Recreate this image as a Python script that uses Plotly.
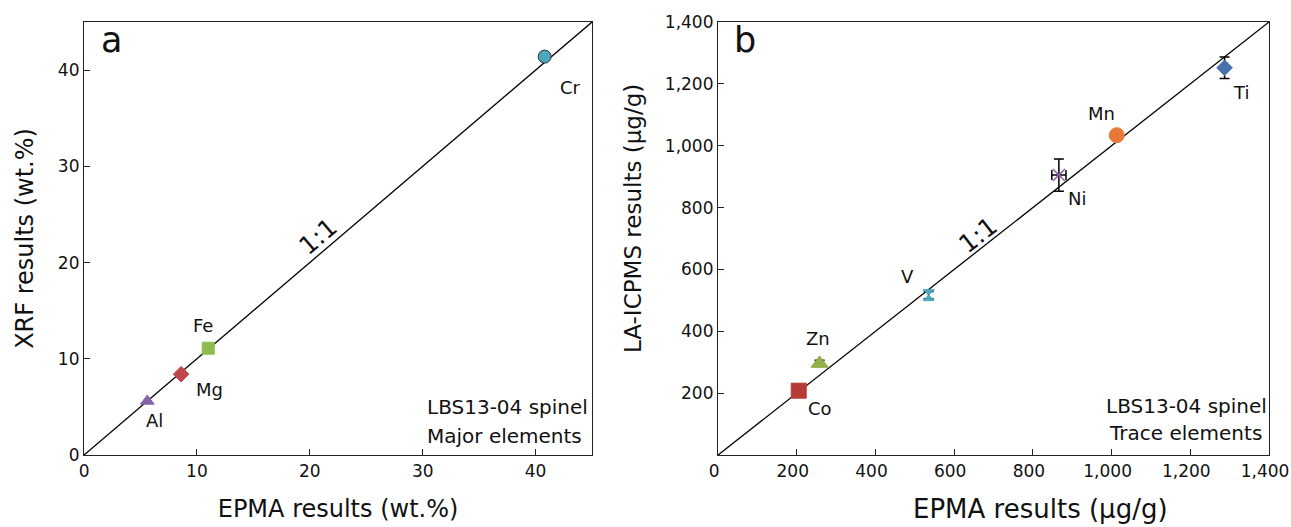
import plotly.graph_objects as go

# ---- data ----
# Panel a: major elements (wt.%)
maj_elem = ["Cr", "Fe", "Mg", "Al"]
maj_epma = [40.8, 11.0, 8.6, 5.6]
maj_xrf = [41.4, 11.1, 8.4, 5.6]

# Panel b: trace elements (µg/g)
tr_elem = ["Ti", "Mn", "Ni", "V", "Zn", "Co"]
tr_epma = [1287, 1013, 866, 535, 258, 205]
tr_icp = [1252, 1034, 905, 517, 296, 208]
tr_icp_err = [35, 0, 52, 12, 10, 0]
tr_epma_err = [0, 0, 18, 0, 0, 0]

FONT = "DejaVu Sans, Liberation Sans, Arial, sans-serif"
INK = "#111111"

maj_style = {
    "Cr": dict(symbol="circle", color="#4aa8bd", size=13, dx=26, dy=-31),
    "Fe": dict(symbol="square", color="#8fbb4f", size=12, dx=-5, dy=23),
    "Mg": dict(symbol="diamond", color="#c0474a", size=12, dx=28, dy=-15),
    "Al": dict(symbol="triangle-up", color="#8064a8", size=12, dx=7, dy=-19),
}
tr_style = {
    "Ti": dict(symbol="diamond", color="#4a70ad", size=12, dx=16, dy=-25),
    "Mn": dict(symbol="circle", color="#e8783a", size=15, dx=-15, dy=22),
    "Ni": dict(symbol="x-thin", color="#8a5ca8", size=12, dx=18, dy=-23),
    "V": dict(symbol="hourglass", color="#4aa8bd", size=11, dx=-21, dy=19),
    "Zn": dict(symbol="triangle-up", color="#8fb04a", size=15, dx=-2, dy=25),
    "Co": dict(symbol="square", color="#b83a36", size=15, dx=21, dy=-18),
}

fig = go.Figure()

# 1:1 lines
fig.add_trace(go.Scatter(x=[0, 45], y=[0, 45], mode="lines",
                         line=dict(color="black", width=1.3),
                         xaxis="x", yaxis="y", showlegend=False, hoverinfo="skip"))
fig.add_trace(go.Scatter(x=[0, 1400], y=[0, 1400], mode="lines",
                         line=dict(color="black", width=1.3),
                         xaxis="x2", yaxis="y2", showlegend=False, hoverinfo="skip"))

annotations = []
for i, el in enumerate(maj_elem):
    s = maj_style[el]
    fig.add_trace(go.Scatter(
        x=[maj_epma[i]], y=[maj_xrf[i]], mode="markers",
        marker=dict(symbol=s["symbol"], color=s["color"], size=s["size"],
                    line=dict(color="#333333" if el == "Cr" else s["color"], width=1)),
        xaxis="x", yaxis="y", showlegend=False, name=el))
    annotations.append(dict(x=maj_epma[i], y=maj_xrf[i], xref="x", yref="y",
                            text=el, showarrow=False, xshift=s["dx"], yshift=s["dy"],
                            font=dict(family=FONT, size=18, color=INK)))

for i, el in enumerate(tr_elem):
    s = tr_style[el]
    thin = s["symbol"].endswith("thin")
    fig.add_trace(go.Scatter(
        x=[tr_epma[i]], y=[tr_icp[i]], mode="markers",
        marker=dict(symbol=s["symbol"], color=s["color"], size=s["size"],
                    line=dict(color=s["color"], width=1.5 if thin else 1)),
        error_y=dict(type="data", array=[tr_icp_err[i]], visible=tr_icp_err[i] > 0,
                     color="black", thickness=1.5, width=5),
        error_x=dict(type="data", array=[tr_epma_err[i]], visible=tr_epma_err[i] > 0,
                     color="black", thickness=1.5, width=5),
        xaxis="x2", yaxis="y2", showlegend=False, name=el))
    annotations.append(dict(x=tr_epma[i], y=tr_icp[i], xref="x2", yref="y2",
                            text=el, showarrow=False, xshift=s["dx"], yshift=s["dy"],
                            font=dict(family=FONT, size=18, color=INK)))

# 1:1 labels
annotations.append(dict(x=0.5, y=0.5, xref="x domain", yref="y domain", text="1:1",
                        showarrow=False, textangle=-40, xshift=-20, yshift=2,
                        font=dict(family=FONT, size=25, color=INK)))
annotations.append(dict(x=0.5, y=0.5, xref="x2 domain", yref="y2 domain", text="1:1",
                        showarrow=False, textangle=-38, xshift=-16, yshift=3,
                        font=dict(family=FONT, size=25, color=INK)))

# panel letters
annotations.append(dict(x=0.03, y=1.01, xref="x domain", yref="y domain", text="a",
                        showarrow=False, xanchor="left", yanchor="top",
                        font=dict(family=FONT, size=35, color=INK)))
annotations.append(dict(x=0.025, y=1.01, xref="x2 domain", yref="y2 domain", text="b",
                        showarrow=False, xanchor="left", yanchor="top",
                        font=dict(family=FONT, size=35, color=INK)))

# corner notes
for txt, yd, xd in [("LBS13-04 spinel", 0.112, 0.995), ("Major elements", 0.045, 0.985)]:
    annotations.append(dict(x=xd, y=yd, xref="x domain", yref="y domain", text=txt,
                            showarrow=False, xanchor="right", yanchor="middle",
                            font=dict(family=FONT, size=20, color=INK)))
for txt, yd, xd in [("LBS13-04 spinel", 0.114, 0.999), ("Trace elements", 0.050, 0.99)]:
    annotations.append(dict(x=xd, y=yd, xref="x2 domain", yref="y2 domain", text=txt,
                            showarrow=False, xanchor="right", yanchor="middle",
                            font=dict(family=FONT, size=20, color=INK)))

# panel b axis titles (placed as in the reference, off-centre)
annotations.append(dict(x=0.8056, y=0.0, xref="paper", yref="paper",
                        text="EPMA results (μg/g)", showarrow=False,
                        xanchor="center", yanchor="bottom", yshift=1,
                        font=dict(family=FONT, size=26, color=INK)))
annotations.append(dict(x=0.4903, y=0.5863, xref="paper", yref="paper",
                        text="LA-ICPMS results (μg/g)", showarrow=False, textangle=-90,
                        xanchor="center", yanchor="middle",
                        font=dict(family=FONT, size=23, color=INK)))

axis_common = dict(showline=True, linecolor="#222222", linewidth=1.3, mirror=True,
                   ticks="inside", ticklen=6, tickcolor="#222222", tickwidth=1.3,
                   showgrid=False, zeroline=False, automargin=False,
                   tickfont=dict(family=FONT, size=17, color=INK))

TFONT_A = dict(family=FONT, size=24, color=INK)

fig.update_layout(
    width=1291, height=527,
    margin=dict(l=0, r=0, t=0, b=0),
    paper_bgcolor="white", plot_bgcolor="white",
    showlegend=False,
    xaxis=dict(domain=[0.0651, 0.4586], range=[0, 45], tickvals=[0, 10, 20, 30, 40],
               title=dict(text="EPMA results (wt.%)", standoff=20, font=TFONT_A),
               anchor="y", **axis_common),
    yaxis=dict(domain=[0.1366, 0.9583], range=[0, 45], tickvals=[0, 10, 20, 30, 40],
               title=dict(text="XRF results (wt.%)", standoff=17, font=TFONT_A),
               anchor="x", **axis_common),
    xaxis2=dict(domain=[0.5562, 0.983], range=[0, 1400],
                tickvals=[0, 200, 400, 600, 800, 1000, 1200, 1400], tickformat=",d",
                ticklabeloverflow="allow", ticklabelshift=-4,
                anchor="y2", **axis_common),
    yaxis2=dict(domain=[0.1366, 0.9583], range=[0, 1400],
                tickvals=[200, 400, 600, 800, 1000, 1200, 1400], tickformat=",d",
                anchor="x2", **axis_common),
    annotations=annotations,
)

fig.write_html("out.html")
